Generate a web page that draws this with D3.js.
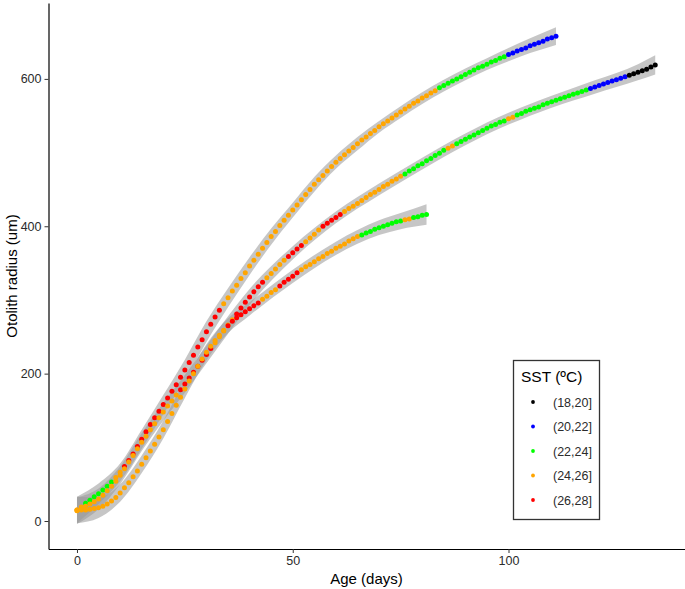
<!DOCTYPE html>
<html>
<head>
<meta charset="utf-8">
<script src="https://cdn.jsdelivr.net/npm/d3@7/dist/d3.min.js"></script>
<style>
  body { margin: 0; background: #fff; }
  text { font-family: "Liberation Sans", Arial, sans-serif; }
</style>
</head>
<body>
<div id="chart"></div>
<script>
// SST classes and their colours
const sstClasses = ["(18,20]", "(20,22]", "(22,24]", "(24,26]", "(26,28]"];
const sstColors  = ["#000000", "#0000ff", "#00ff00", "#ffa500", "#ff0000"];

// otolith radius (um) per day of age, one array per fish (day 0 .. n)
const radiusA = [
  15, 19, 24, 28, 33, 37, 42, 47, 53, 59,
  66, 74, 82, 91, 101, 111, 121, 131, 140, 149,
  158, 167, 176, 185, 195, 205, 215, 225, 236, 246,
  257, 267, 277, 286, 295, 303, 312, 320, 329, 337,
  346, 354, 362, 370, 378, 386, 393, 401, 408, 415,
  422, 429, 436, 443, 450, 457, 463, 469, 475, 481,
  487, 492, 497, 502, 507, 512, 517, 521, 526, 530,
  535, 539, 543, 547, 551, 555, 559, 563, 567, 570,
  574, 577, 581, 584, 588, 591, 594, 597, 600, 603,
  606, 609, 612, 615, 617, 620, 623, 625, 628, 630,
  633, 635, 638, 640, 642, 645, 647, 649, 651, 654,
  656, 658
];
const radiusB = [
  14, 17, 20, 23, 26, 30, 35, 41, 47, 54,
  62, 71, 80, 89, 98, 107, 115, 124, 132, 140,
  148, 156, 163, 171, 178, 186, 194, 202, 210, 218,
  226, 234, 242, 250, 258, 266, 273, 281, 289, 297,
  304, 311, 318, 324, 330, 336, 342, 348, 354, 359,
  364, 369, 374, 379, 384, 389, 395, 400, 404, 408,
  412, 416, 420, 424, 427, 431, 435, 439, 443, 446,
  450, 454, 457, 461, 464, 468, 471, 475, 478, 482,
  485, 489, 492, 496, 499, 503, 506, 509, 512, 515,
  518, 521, 524, 527, 530, 533, 536, 538, 541, 543,
  546, 548, 551, 553, 556, 558, 560, 562, 565, 567,
  569, 571, 573, 575, 577, 579, 581, 583, 585, 587,
  589, 591, 593, 595, 597, 599, 601, 603, 605, 607,
  609, 611, 613, 616, 619
];
const radiusC = [
  15, 15, 15, 16, 17, 18, 20, 23, 27, 32,
  38, 45, 52, 60, 68, 77, 86, 95, 104, 114,
  124, 135, 146, 157, 168, 179, 190, 200, 210, 220,
  229, 237, 245, 252, 259, 265, 271, 276, 280, 284,
  288, 292, 296, 301, 305, 310, 314, 319, 324, 328,
  332, 337, 341, 345, 348, 352, 356, 359, 363, 366,
  370, 373, 376, 380, 383, 386, 388, 391, 393, 396,
  398, 400, 402, 404, 406, 407, 409, 410, 412, 413,
  415, 416
];

// SST class along each series, as [class index, number of days]
const sstRunsA = [[3,2],[2,7],[3,2],[4,23],[3,50],[2,16],[1,12]];
const sstRunsB = [[3,24],[4,8],[3,5],[4,7],[3,5],[4,4],[3,4],[4,5],[3,14],
                  [2,10],[3,2],[2,12],[3,2],[2,17],[1,9],[0,7]];
const sstRunsC = [[3,35],[4,8],[3,4],[4,5],[3,14],[2,10],[3,2],[2,4]];

// confidence band half-width (um) at some days
const bandDaysA = [0,5,10,15,20,25,30,35,40,45,50,55,60,65,70,75,80,85,90,95,100,105,111];
const bandHalfA = [18,14,12,13,13,14,14,13,12,11,10,10,9,9,8,8,8,8,8,8,9,10,12];
const bandDaysB = [0,5,10,15,20,25,30,35,40,50,60,70,80,90,100,110,120,130,134];
const bandHalfB = [18,14,12,12,12,12,12,12,11,9,8,8,8,8,8,8,9,11,13];
const bandDaysC = [0,5,10,15,20,25,30,35,40,50,60,70,75,81];
const bandHalfC = [18,14,12,12,12,12,11,10,9,9,9,10,11,14];

const xTicks = [0, 50, 100];
const yTicks = [0, 200, 400, 600];

const width = 685, height = 589;

const svg = d3.select("#chart").append("svg")
  .attr("width", width)
  .attr("height", height);

const x = d3.scaleLinear().domain([-6.6, 140.9]).range([48.5, 685]);
const y = d3.scaleLinear().domain([-38, 703]).range([549, 3]);

function expandRuns(runs) {
  const out = [];
  runs.forEach(([c, n]) => { for (let i = 0; i < n; i++) out.push(c); });
  return out;
}

const fish = [
  { radius: radiusA, sst: expandRuns(sstRunsA), bandDays: bandDaysA, bandHalf: bandHalfA },
  { radius: radiusB, sst: expandRuns(sstRunsB), bandDays: bandDaysB, bandHalf: bandHalfB },
  { radius: radiusC, sst: expandRuns(sstRunsC), bandDays: bandDaysC, bandHalf: bandHalfC }
];

// bands
const area = d3.area()
  .x(d => x(d.day))
  .y0(d => y(d.lo))
  .y1(d => y(d.hi))
  .curve(d3.curveMonotoneX);

svg.append("g").selectAll("path")
  .data(fish)
  .enter().append("path")
    .attr("d", f => area(f.bandDays.map((day, i) => ({
      day: day,
      lo: f.radius[day] - f.bandHalf[i],
      hi: f.radius[day] + f.bandHalf[i]
    }))))
    .attr("fill", "#999999")
    .attr("fill-opacity", 0.56);

// points
const points = [];
fish.forEach(f => f.radius.forEach((r, day) => points.push({ day: day, r: r, c: f.sst[day] })));

svg.append("g").selectAll("circle")
  .data(points)
  .enter().append("circle")
    .attr("cx", d => x(d.day))
    .attr("cy", d => y(d.r))
    .attr("r", 2.5)
    .attr("fill", d => sstColors[d.c]);

// axes
const xAxis = svg.append("g")
  .attr("transform", "translate(0,549)")
  .call(d3.axisBottom(x).tickValues(xTicks).tickSize(4).tickSizeOuter(0).tickPadding(3));
const yAxis = svg.append("g")
  .attr("transform", "translate(48.5,0)")
  .call(d3.axisLeft(y).tickValues(yTicks).tickSize(4).tickSizeOuter(0).tickPadding(3));

[xAxis, yAxis].forEach(a => {
  a.select(".domain").attr("stroke", "#000").attr("stroke-width", 1.2);
  a.selectAll(".tick line").attr("stroke", "#333");
  a.selectAll(".tick text")
    .attr("fill", "#2b2b2b")
    .style("font-size", "12.5px")
    .style("font-family", "'Liberation Sans', Arial, sans-serif");
});

svg.append("text")
  .attr("x", 366.5)
  .attr("y", 584)
  .attr("text-anchor", "middle")
  .style("font-size", "15px")
  .text("Age (days)");

svg.append("text")
  .attr("transform", "translate(17,276) rotate(-90)")
  .attr("text-anchor", "middle")
  .style("font-size", "15px")
  .text("Otolith radius (um)");

// legend
const legend = svg.append("g");
legend.append("rect")
  .attr("x", 513.5).attr("y", 360.5)
  .attr("width", 86).attr("height", 159)
  .attr("fill", "#fff")
  .attr("stroke", "#333")
  .attr("stroke-width", 1.3);
legend.append("text")
  .attr("x", 521).attr("y", 382)
  .style("font-size", "15.5px")
  .text("SST (ºC)");
const items = legend.selectAll(".item")
  .data(sstClasses)
  .enter().append("g")
    .attr("transform", (d, i) => "translate(0," + (402 + i * 24.5) + ")");
items.append("circle")
  .attr("cx", 533).attr("cy", 0).attr("r", 1.9)
  .attr("fill", (d, i) => sstColors[i]);
items.append("text")
  .attr("x", 553).attr("y", 4.5)
  .attr("fill", "#2b2b2b")
  .style("font-size", "12.5px")
  .text(d => d);
</script>
</body>
</html>
